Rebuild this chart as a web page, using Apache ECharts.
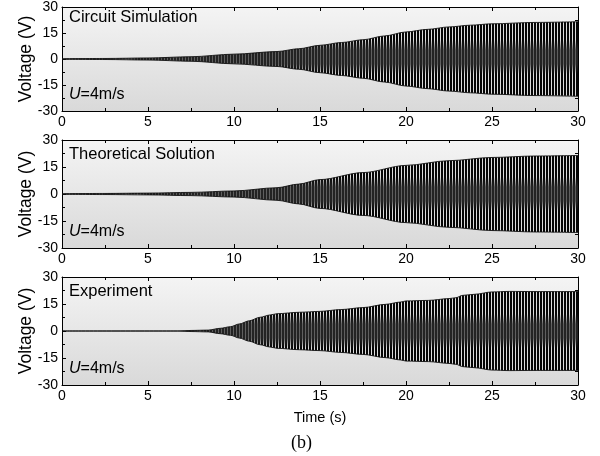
<!DOCTYPE html>
<html>
<head>
<meta charset="utf-8">
<script src="https://cdn.jsdelivr.net/npm/echarts@6/dist/echarts.min.js"></script>
<style>
  html, body { margin: 0; padding: 0; background: #ffffff; }
  #chart { width: 600px; height: 456px; }
</style>
</head>
<body>
<div id="chart"></div>
<script>
// Panel captions and the common annotation
const panelTitles = ['Circuit Simulation', 'Theoretical Solution', 'Experiment'];
const speedNote = '{i|U}=4m/s';

// Axis ticks
const timeTicks = [0, 5, 10, 15, 20, 25, 30];
const voltTicks = [-30, -15, 0, 15, 30];

// Envelope (peak voltage, V) of the oscillating output for each case
const simTime = [0, 2.5, 5, 7.5, 10, 12.5, 13.75, 15, 16.25, 17.5, 18.75, 20, 21.25, 22.5, 23.75, 25, 27.5, 30];
const simAmp  = [0.2, 0.3, 0.6, 1.3, 2.8, 4.3, 5.9, 7.9, 9.5, 11.1, 13.3, 15.6, 17.1, 18.5, 19.5, 20.3, 21.1, 21.5];

const theoTime = [0, 2.5, 5, 7.5, 10, 12.5, 13.75, 15, 17.5, 20, 22.5, 25, 27.5, 30];
const theoAmp  = [0.2, 0.3, 0.5, 0.9, 1.7, 3.5, 5.5, 8.0, 11.9, 15.9, 18.5, 20.3, 21.1, 21.4];

const expTime = [0, 6.7, 7.5, 8.5, 9.2, 9.8, 10.3, 10.9, 11.5, 12.1, 12.5, 13.8, 15, 16.2, 17.5, 18.8, 19.7, 20, 21.3, 22.5, 22.9, 23.3, 24, 25, 26, 27.5, 30];
const expAmp  = [0, 0, 0.3, 0.5, 1.5, 2.4, 3.9, 5.7, 7.6, 8.9, 9.6, 10.4, 10.9, 11.9, 13.0, 14.8, 16.1, 16.7, 17.0, 18.0, 18.5, 19.8, 20.4, 21.7, 22.0, 21.9, 21.9];

const caseTimes = [simTime, theoTime, expTime];
const caseAmps  = [simAmp, theoAmp, expAmp];

// Layout
const W = 600, H = 456;
const gridLeft = 62, gridWidth = 516, gridHeight = 108;
const gridTops = [3, 140, 277];
const sans = 'Liberation Sans, Arial, sans-serif';

// Dense carrier rendered as a fine vertical-stripe fill: black lines with light
// gaps, both turning to mid/dark grey around each trace's zero crossing
function stripeFill() {
  const c = document.createElement('canvas');
  c.width = 3; c.height = H;
  const g = c.getContext('2d');
  const zeros = gridTops.map(t => t + gridHeight / 2);
  const grey = v => { v = Math.round(v); return 'rgb(' + v + ',' + v + ',' + v + ')'; };
  for (let y = 0; y < H; y++) {
    const d = Math.min(...zeros.map(z => Math.abs(y + 0.5 - z)));
    const k = Math.max(0, Math.min(1, (d - 7) / 10));
    g.fillStyle = grey(35 + k * (5 - 35));
    g.fillRect(0, y, 2, 1);
    g.fillStyle = grey(95 + k * (220 - 95));
    g.fillRect(2, y, 1, 1);
  }
  return { image: c, repeat: 'repeat' };
}
const stripes = stripeFill();

const bgGradient = {
  type: 'linear', x: 0, y: 0, x2: 0, y2: 1,
  colorStops: [{ offset: 0, color: '#f4f4f4' }, { offset: 1, color: '#d9d9d9' }]
};

const grids = [], xAxes = [], yAxes = [], series = [], graphics = [];

const tickCommon = {
  axisLine: { show: true, onZero: false, lineStyle: { color: '#000', width: 1 } },
  axisTick: { show: true, inside: true, length: 4, lineStyle: { color: '#000', width: 1 } },
  minorTick: { show: true, splitNumber: 2, length: 3, lineStyle: { color: '#000', width: 1 } },
  splitLine: { show: false },
  minorSplitLine: { show: false }
};

gridTops.forEach((top, i) => {
  grids.push({
    left: gridLeft, top: top, width: gridWidth, height: gridHeight,
    show: true, backgroundColor: bgGradient, borderWidth: 0, containLabel: false
  });

  const xBase = {
    gridIndex: i, type: 'value',
    min: timeTicks[0], max: timeTicks[timeTicks.length - 1],
    interval: timeTicks[1] - timeTicks[0]
  };
  const xBottom = Object.assign({}, xBase, tickCommon, {
    position: 'bottom',
    axisLabel: { show: true, fontSize: 14, color: '#000', fontFamily: sans, margin: 4 }
  });
  if (i === gridTops.length - 1) {
    Object.assign(xBottom, {
      name: 'Time (s)', nameLocation: 'middle', nameGap: 25, nameMoveOverlap: false,
      nameTextStyle: { fontSize: 14.5, color: '#000', fontFamily: sans }
    });
  }
  xAxes.push(xBottom);
  xAxes.push(Object.assign({}, xBase, tickCommon, {
    position: 'top', axisLabel: { show: false }
  }));

  const yBase = {
    gridIndex: i, type: 'value',
    min: voltTicks[0], max: voltTicks[voltTicks.length - 1],
    interval: voltTicks[1] - voltTicks[0]
  };
  yAxes.push(Object.assign({}, yBase, tickCommon, {
    position: 'left',
    name: 'Voltage (V)', nameLocation: 'middle', nameGap: 27, nameMoveOverlap: false,
    nameTextStyle: { fontSize: 17.5, color: '#000', fontFamily: sans },
    axisLabel: { show: true, fontSize: 14, color: '#000', fontFamily: sans, margin: 4 }
  }));
  yAxes.push(Object.assign({}, yBase, tickCommon, {
    position: 'right', axisLabel: { show: false }
  }));

  const t = caseTimes[i], a = caseAmps[i];
  const envStyle = {
    type: 'line', xAxisIndex: 2 * i, yAxisIndex: 2 * i,
    symbol: 'none', silent: true, animation: false, clip: true,
    smooth: 0.3, smoothMonotone: 'x',
    lineStyle: { color: '#111', width: 0.9 },
    areaStyle: { color: stripes, opacity: 1, origin: 0 },
    z: 3
  };
  series.push(Object.assign({}, envStyle, { data: t.map((x, k) => [x, a[k]]) }));
  series.push(Object.assign({}, envStyle, { data: t.map((x, k) => [x, -a[k]]) }));

  graphics.push({
    type: 'text', left: gridLeft + 7, top: top + 6, z: 10,
    style: { text: panelTitles[i], font: '16.5px ' + sans, fill: '#000' }
  });
  graphics.push({
    type: 'text', left: gridLeft + 7, top: top + 84, z: 10,
    style: {
      text: speedNote, fill: '#000', fontSize: 16, fontFamily: sans,
      rich: { i: { fontStyle: 'italic', fontSize: 16, fontFamily: sans } }
    }
  });
});

graphics.push({
  type: 'text', left: 291, top: 434, z: 10,
  style: { text: '(b)', font: '18px Liberation Serif, Times New Roman, serif', fill: '#000' }
});

const chart = echarts.init(document.getElementById('chart'), null, { renderer: 'canvas' });
chart.setOption({
  backgroundColor: '#ffffff',
  animation: false,
  grid: grids,
  xAxis: xAxes,
  yAxis: yAxes,
  series: series,
  graphic: graphics
});
</script>
</body>
</html>
